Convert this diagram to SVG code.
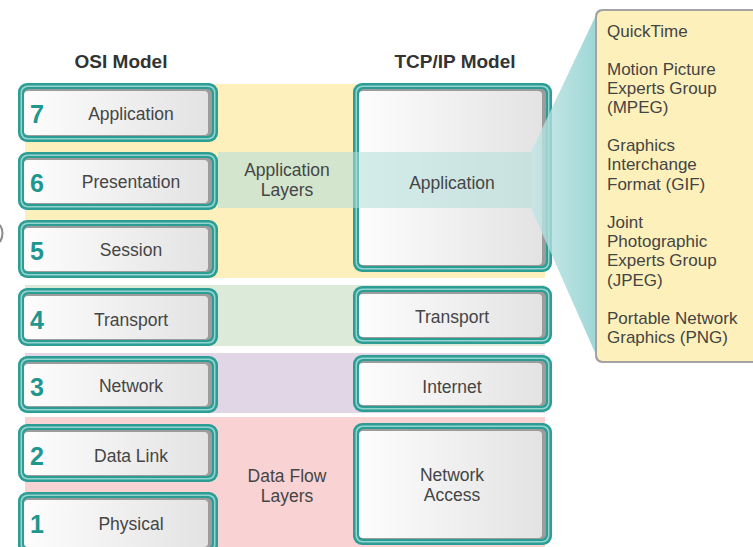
<svg xmlns="http://www.w3.org/2000/svg" width="753" height="547" viewBox="0 0 753 547">
<defs>
<linearGradient id="face" x1="0" y1="0" x2="1" y2="0">
<stop offset="0" stop-color="#fdfdfd"/>
<stop offset="1" stop-color="#e3e3e3"/>
</linearGradient>
<linearGradient id="wedge" gradientUnits="userSpaceOnUse" x1="530" y1="0" x2="596" y2="0">
<stop offset="0" stop-color="#c4e6e5"/>
<stop offset="1" stop-color="#86cdcc"/>
</linearGradient>
<style>
.o{fill:#2c9d95}
.r{fill:#93d5ce}
.s{fill:#9c9c9c}
.f{fill:url(#face)}
.lbl{font-family:"Liberation Sans",Arial,sans-serif;font-size:17.5px;fill:#454545;text-anchor:middle}
.num{font-family:"Liberation Sans",Arial,sans-serif;font-size:25px;font-weight:bold;fill:#1f968e}
.hdr{font-family:"Liberation Sans",Arial,sans-serif;font-size:19px;font-weight:bold;fill:#333;text-anchor:middle}
.co{font-family:"Liberation Sans",Arial,sans-serif;font-size:17px;fill:#444}
</style>
</defs>
<rect width="753" height="547" fill="#fff"/>
<path d="M0,225 Q5,233 0,242" fill="none" stroke="#8a8a8a" stroke-width="2"/>

<g id="bands">
<rect x="25" y="84" width="520" height="194" fill="#fdf0bc"/>
<rect x="25" y="285" width="520" height="61" fill="#dcebd9"/>
<rect x="25" y="353" width="520" height="60" fill="#e0d6e6"/>
<rect x="25" y="417" width="520" height="130" fill="#f9d3d4"/>
</g>

<text class="hdr" x="121" y="68">OSI Model</text>
<text class="hdr" x="455" y="68">TCP/IP Model</text>

<g id="osi7">
<rect class="o" x="18" y="83" width="200" height="59" rx="9"/>
<rect class="r" x="20.5" y="85.5" width="195" height="54" rx="7"/>
<rect class="o" x="22" y="87" width="192" height="51" rx="6"/>
<rect class="s" x="24" y="89" width="188" height="47" rx="5"/>
<rect class="f" x="24" y="91" width="184" height="44" rx="4"/>
</g>
<g id="osi6">
<rect class="o" x="18" y="152" width="200" height="58" rx="9"/>
<rect class="r" x="20.5" y="154.5" width="195" height="53" rx="7"/>
<rect class="o" x="22" y="156" width="192" height="50" rx="6"/>
<rect class="s" x="24" y="158" width="188" height="46" rx="5"/>
<rect class="f" x="24" y="160" width="184" height="43" rx="4"/>
</g>
<g id="osi5">
<rect class="o" x="18" y="220" width="200" height="58" rx="9"/>
<rect class="r" x="20.5" y="222.5" width="195" height="53" rx="7"/>
<rect class="o" x="22" y="224" width="192" height="50" rx="6"/>
<rect class="s" x="24" y="226" width="188" height="46" rx="5"/>
<rect class="f" x="24" y="228" width="184" height="43" rx="4"/>
</g>
<g id="osi4">
<rect class="o" x="18" y="288" width="200" height="58" rx="9"/>
<rect class="r" x="20.5" y="290.5" width="195" height="53" rx="7"/>
<rect class="o" x="22" y="292" width="192" height="50" rx="6"/>
<rect class="s" x="24" y="294" width="188" height="46" rx="5"/>
<rect class="f" x="24" y="296" width="184" height="43" rx="4"/>
</g>
<g id="osi3">
<rect class="o" x="18" y="356" width="200" height="57" rx="9"/>
<rect class="r" x="20.5" y="358.5" width="195" height="52" rx="7"/>
<rect class="o" x="22" y="360" width="192" height="49" rx="6"/>
<rect class="s" x="24" y="362" width="188" height="45" rx="5"/>
<rect class="f" x="24" y="364" width="184" height="42" rx="4"/>
</g>
<g id="osi2">
<rect class="o" x="18" y="424" width="200" height="58" rx="9"/>
<rect class="r" x="20.5" y="426.5" width="195" height="53" rx="7"/>
<rect class="o" x="22" y="428" width="192" height="50" rx="6"/>
<rect class="s" x="24" y="430" width="188" height="46" rx="5"/>
<rect class="f" x="24" y="432" width="184" height="43" rx="4"/>
</g>
<g id="osi1">
<rect class="o" x="18" y="492" width="200" height="62" rx="9"/>
<rect class="r" x="20.5" y="494.5" width="195" height="57" rx="7"/>
<rect class="o" x="22" y="496" width="192" height="54" rx="6"/>
<rect class="s" x="24" y="498" width="188" height="50" rx="5"/>
<rect class="f" x="24" y="500" width="184" height="47" rx="4"/>
</g>

<g id="tcp-app">
<rect class="o" x="353" y="83" width="199" height="189" rx="9"/>
<rect class="r" x="355.5" y="85.5" width="194" height="184" rx="7"/>
<rect class="o" x="357" y="87" width="191" height="181" rx="6"/>
<rect class="s" x="359" y="89" width="187" height="177" rx="5"/>
<rect class="f" x="359" y="91" width="183" height="174" rx="4"/>
</g>
<g id="tcp-transport">
<rect class="o" x="353" y="286" width="199" height="58" rx="9"/>
<rect class="r" x="355.5" y="288.5" width="194" height="53" rx="7"/>
<rect class="o" x="357" y="290" width="191" height="50" rx="6"/>
<rect class="s" x="359" y="292" width="187" height="46" rx="5"/>
<rect class="f" x="359" y="294" width="183" height="43" rx="4"/>
</g>
<g id="tcp-internet">
<rect class="o" x="353" y="355" width="199" height="57" rx="9"/>
<rect class="r" x="355.5" y="357.5" width="194" height="52" rx="7"/>
<rect class="o" x="357" y="359" width="191" height="49" rx="6"/>
<rect class="s" x="359" y="361" width="187" height="45" rx="5"/>
<rect class="f" x="359" y="363" width="183" height="42" rx="4"/>
</g>
<g id="tcp-netaccess">
<rect class="o" x="353" y="423" width="199" height="122" rx="9"/>
<rect class="r" x="355.5" y="425.5" width="194" height="117" rx="7"/>
<rect class="o" x="357" y="427" width="191" height="114" rx="6"/>
<rect class="s" x="359" y="429" width="187" height="110" rx="5"/>
<rect class="f" x="359" y="431" width="183" height="107" rx="4"/>
</g>

<g id="connectors">
<rect x="218" y="152" width="314" height="56" fill="#b0dedb" opacity="0.55"/>
<polygon points="531,152 597,13 597,357 531,208" fill="url(#wedge)" opacity="0.8"/>
</g>

<g id="callout">
<rect x="595" y="9" width="170" height="354" rx="7" fill="#a3a3a3"/>
<rect x="597" y="11" width="168" height="350" rx="6" fill="#fdf0bb"/>
<text class="co" x="607" y="37">QuickTime</text>
<text class="co" x="607" y="75">Motion Picture</text>
<text class="co" x="607" y="94">Experts Group</text>
<text class="co" x="607" y="113">(MPEG)</text>
<text class="co" x="607" y="151">Graphics</text>
<text class="co" x="607" y="170">Interchange</text>
<text class="co" x="607" y="190">Format (GIF)</text>
<text class="co" x="607" y="228">Joint</text>
<text class="co" x="607" y="247">Photographic</text>
<text class="co" x="607" y="266">Experts Group</text>
<text class="co" x="607" y="286">(JPEG)</text>
<text class="co" x="607" y="324">Portable Network</text>
<text class="co" x="607" y="343">Graphics (PNG)</text>
</g>

<g id="labels">
<text class="num" x="30" y="123">7</text>
<text class="lbl" x="131" y="120">Application</text>
<text class="num" x="30" y="192">6</text>
<text class="lbl" x="131" y="188">Presentation</text>
<text class="num" x="30" y="260">5</text>
<text class="lbl" x="131" y="256">Session</text>
<text class="num" x="30" y="329">4</text>
<text class="lbl" x="131" y="326">Transport</text>
<text class="num" x="30" y="396">3</text>
<text class="lbl" x="131" y="392">Network</text>
<text class="num" x="30" y="465">2</text>
<text class="lbl" x="131" y="462">Data Link</text>
<text class="num" x="30" y="533">1</text>
<text class="lbl" x="131" y="530">Physical</text>

<text class="lbl" x="287" y="176">Application</text>
<text class="lbl" x="287" y="196">Layers</text>
<text class="lbl" x="287" y="482">Data Flow</text>
<text class="lbl" x="287" y="502">Layers</text>

<text class="lbl" x="452" y="189">Application</text>
<text class="lbl" x="452" y="323">Transport</text>
<text class="lbl" x="452" y="393">Internet</text>
<text class="lbl" x="452" y="481">Network</text>
<text class="lbl" x="452" y="501">Access</text>
</g>
</svg>
